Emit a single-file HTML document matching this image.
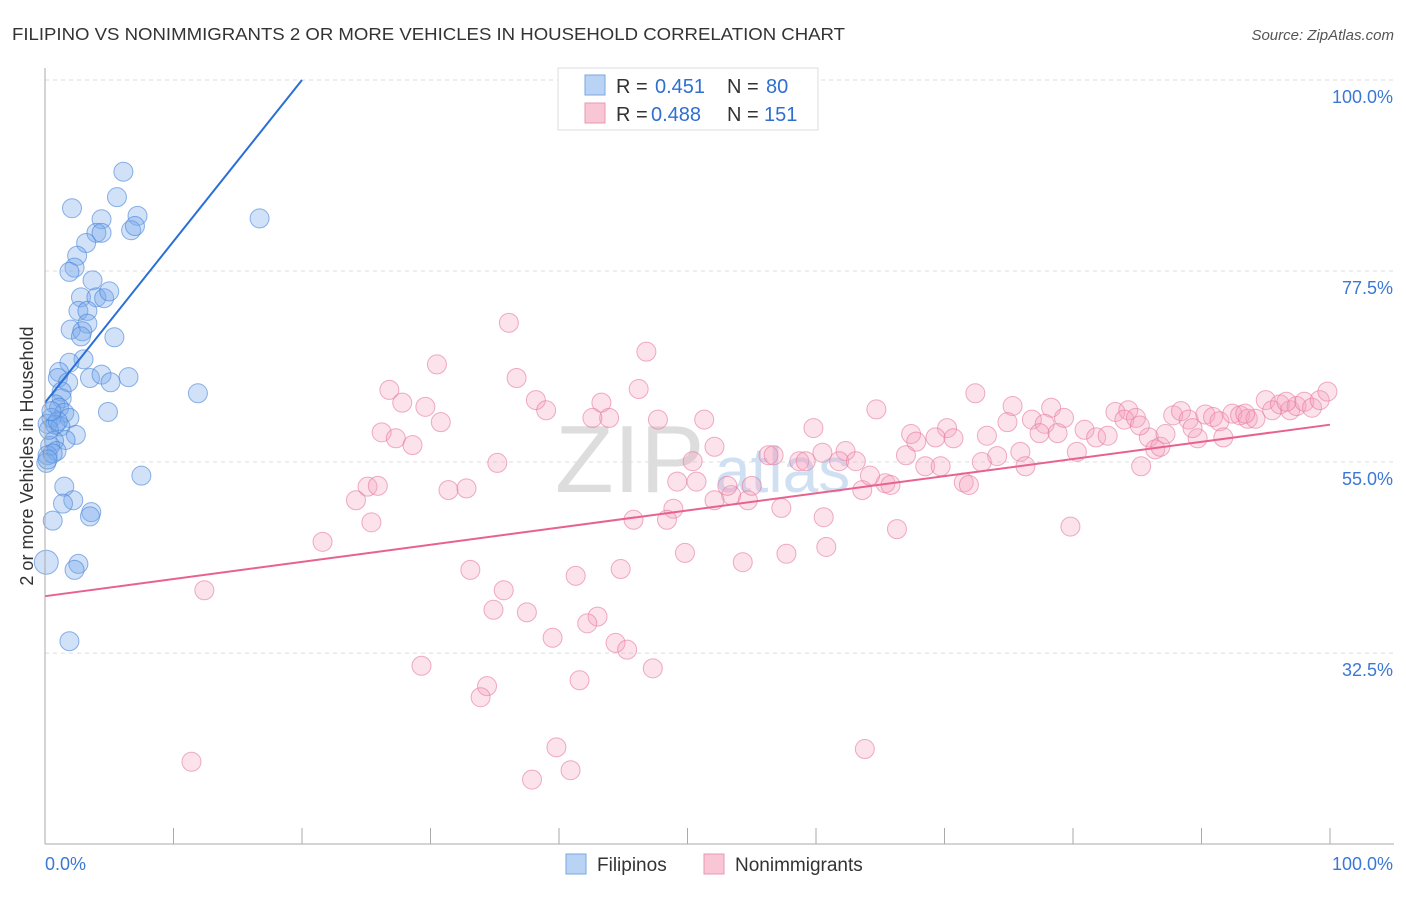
<!DOCTYPE html>
<html><head><meta charset="utf-8">
<style>
body{margin:0;background:#fff;font-family:"Liberation Sans",sans-serif;}
svg text{font-family:"Liberation Sans",sans-serif;}
</style></head>
<body>
<svg id="chart" width="1406" height="892">
<text x="12" y="40" font-size="17.5" fill="#333" textLength="833" lengthAdjust="spacingAndGlyphs">FILIPINO VS NONIMMIGRANTS 2 OR MORE VEHICLES IN HOUSEHOLD CORRELATION CHART</text>
<text x="1394" y="40" font-size="15" fill="#555" text-anchor="end" font-style="italic">Source: ZipAtlas.com</text>
<g id="grid"></g>
<text x="555" y="492" font-size="96" fill="#ddd" font-family="Liberation Serif">ZIP</text>
<text x="715" y="492" font-size="64" fill="#cfe0f3">atlas</text>
<g id="pts"></g>
<g id="lines"></g>
<line x1="45" y1="68" x2="45" y2="844" stroke="#aaa"/>
<line x1="45" y1="844" x2="1394" y2="844" stroke="#aaa"/>
<g id="xt"></g>
<text x="33" y="456" font-size="18" fill="#333" text-anchor="middle" transform="rotate(-90 33 456)">2 or more Vehicles in Household</text>
<text x="45" y="870" font-size="18" fill="#3a78d6">0.0%</text>
<text x="1393" y="870" font-size="18" fill="#3a78d6" text-anchor="end">100.0%</text>
<g>
<rect x="558" y="68" width="260" height="62" fill="#fff" stroke="#ddd"/>
<rect x="585" y="75" width="20" height="20" fill="#b9d3f5" stroke="#7aa7e0"/>
<text x="616" y="93" font-size="20" fill="#333">R =</text>
<text x="655" y="93" font-size="20" fill="#2f6fd0">0.451</text>
<text x="727" y="93" font-size="20" fill="#333">N =</text>
<text x="766" y="93" font-size="20" fill="#2f6fd0">80</text>
<rect x="585" y="103" width="20" height="20" fill="#f9c6d5" stroke="#e899b0"/>
<text x="616" y="121" font-size="20" fill="#333">R =</text>
<text x="651" y="121" font-size="20" fill="#2f6fd0">0.488</text>
<text x="727" y="121" font-size="20" fill="#333">N =</text>
<text x="764" y="121" font-size="20" fill="#2f6fd0">151</text>
</g>
<g>
<rect x="566" y="854" width="20" height="20" fill="#b9d3f5" stroke="#7aa7e0"/>
<text x="597" y="871" font-size="19" fill="#333">Filipinos</text>
<rect x="704" y="854" width="20" height="20" fill="#f9c6d5" stroke="#e899b0"/>
<text x="735" y="871" font-size="19" fill="#333">Nonimmigrants</text>
</g>
</svg>
<script>
const yTicks=[100,77.5,55,32.5];
const yTickLabels=["100.0%","77.5%","55.0%","32.5%"];
const blueX=[6.1,2.1,5.6,4.4,7.2,6.7,7.0,4.0,4.4,3.2,2.5,2.3,1.9,3.7,2.8,4.0,4.6,5.0,2.6,3.3,3.3,2.0,2.9,2.8,5.4,3.0,1.9,1.1,1.0,3.5,4.4,6.5,5.1,1.8,1.3,1.3,0.8,1.1,1.5,1.9,0.5,0.2,0.8,1.2,4.9,11.9,16.7,2.4,1.6,0.7,0.4,0.9,0.2,0.1,7.5,1.5,2.2,1.4,3.6,3.5,0.6,0.1,2.6,2.3,1.9,0.3,0.6,1.0,0.2,0.5];
const blueY=[89.2,84.9,86.2,83.6,84.0,82.3,82.8,82.0,82.0,80.8,79.3,77.9,77.4,76.4,74.4,74.4,74.3,75.1,72.8,72.8,71.3,70.6,70.4,69.8,69.7,67.1,66.7,65.6,64.9,64.9,65.3,65.0,64.4,64.4,63.3,62.5,61.8,61.4,60.8,60.2,60.2,59.5,59.4,59.2,60.9,63.1,83.7,58.2,57.6,57.5,56.9,56.3,55.8,54.9,53.4,52.1,50.5,50.1,49.1,48.6,48.1,43.2,43.0,42.3,33.9,58.8,56.0,59.8,55.3,61.0];
const pinkX=[36.1,46.8,30.5,36.7,26.8,46.2,27.8,38.2,39.0,43.3,29.6,30.8,43.9,47.7,51.3,26.2,27.3,28.6,35.2,52.1,50.4,56.3,56.7,58.7,59.2,60.5,59.8,62.3,61.8,63.1,64.7,67.4,67.8,70.2,69.3,70.7,67.0,68.5,69.7,72.4,75.3,73.3,74.9,75.9,74.1,72.9,76.3,78.3,79.3,76.8,77.8,77.4,78.8,80.3,80.9,81.8,82.7,83.3,84.3,84.0,84.9,85.9,86.4,86.8,87.2,85.3,87.8,88.4,89.0,89.7,89.3,90.3,90.9,91.4,91.7,92.4,93.0,93.6,94.2,95.0,95.5,96.1,96.9,97.4,98.0,98.6,99.2,99.8,96.6,93.4,79.8,66.3,65.4,63.6,65.8,64.2,60.6,60.8,57.7,57.3,54.7,55.0,53.4,53.1,52.1,50.7,49.2,48.9,48.4,45.8,49.8,54.3,44.8,41.3,33.1,35.7,34.9,37.5,43.0,42.2,39.5,44.4,45.3,47.3,41.6,29.3,34.4,33.9,39.8,40.9,37.9,63.8,11.4,12.4,21.6,24.2,25.1,25.9,25.4,31.4,32.8,42.6,85.2,71.5,71.9];
const pinkY=[71.4,68.0,66.5,64.9,63.5,63.6,62.0,62.3,61.1,62.0,61.5,59.7,60.2,60.0,60.0,58.5,57.8,57.0,54.9,56.8,55.1,55.8,55.8,55.1,55.1,56.1,59.0,56.3,55.1,55.1,61.2,58.3,57.4,59.0,57.9,57.8,55.8,54.5,54.5,63.1,61.6,58.1,59.7,56.2,55.7,55.0,54.5,61.4,60.2,60.0,59.5,58.4,58.4,56.2,58.8,57.9,58.1,60.9,61.1,60.0,60.2,57.9,56.5,56.8,58.3,54.5,60.5,61.0,60.0,57.8,59.0,60.6,60.3,59.8,57.9,60.7,60.5,60.1,60.1,62.3,61.1,61.8,61.1,61.6,62.1,61.4,62.3,63.3,62.1,60.7,47.4,47.1,52.5,51.7,52.3,53.4,48.5,45.0,44.2,49.6,50.5,52.2,51.1,52.2,50.5,52.7,52.7,49.5,48.2,48.2,44.3,43.2,42.4,41.6,42.3,39.9,37.6,37.3,36.8,36.0,34.3,33.7,32.9,30.7,29.3,31.0,28.6,27.3,21.4,18.7,17.6,21.2,19.7,39.9,45.6,50.5,52.1,52.2,47.9,51.7,51.9,60.2,59.3,52.6,52.3];
const blueTrend=[[0,62.0],[20,100]];
const pinkTrend=[[0,39.2],[100,59.4]];
const NS="http://www.w3.org/2000/svg";
const X=v=>45+v*12.85;
const Y=v=>80+(100-v)*8.49;
function mk(t,a,p){const e=document.createElementNS(NS,t);for(const k in a)e.setAttribute(k,a[k]);p.appendChild(e);return e;}
const grid=document.getElementById('grid');
yTicks.forEach((t,i)=>{
 const l=mk('line',{x1:45,x2:1394,y1:Y(t),y2:Y(t),stroke:'#ddd','stroke-dasharray':'4,4'},grid);
 
 
 const tx=mk('text',{x:1393,y:Y(t)+23,'font-size':18,fill:'#3a78d6','text-anchor':'end'},grid);
 tx.textContent=yTickLabels[i];
 
 
});
const xt=document.getElementById('xt');
for(let i=1;i<=10;i++){const l=mk('line',{x1:45+i*128.5,x2:45+i*128.5,y1:828,y2:844,stroke:'#aaa'},xt);
 
 }
const pts=document.getElementById('pts');
pinkX.forEach((x,i)=>{const c=mk('circle',{cx:X(x),cy:Y(pinkY[i]),r:9.5,fill:'rgba(244,160,188,0.3)',stroke:'rgba(230,120,155,0.6)','stroke-width':1},pts);
 
 });
blueX.forEach((x,i)=>{const c=mk('circle',{cx:X(x),cy:Y(blueY[i]),r:i==61?12:9.5,fill:'rgba(120,170,235,0.35)',stroke:'rgba(70,130,215,0.6)','stroke-width':1},pts);
 
 });
const lines=document.getElementById('lines');
const bl=mk('line',{x1:X(blueTrend[0][0]),y1:Y(blueTrend[0][1]),x2:X(blueTrend[1][0]),y2:Y(blueTrend[1][1]),stroke:'#2a6fd6','stroke-width':2},lines);


const pl=mk('line',{x1:X(pinkTrend[0][0]),y1:Y(pinkTrend[0][1]),x2:X(pinkTrend[1][0]),y2:Y(pinkTrend[1][1]),stroke:'#e8628f','stroke-width':2},lines);


</script>
</body></html>
